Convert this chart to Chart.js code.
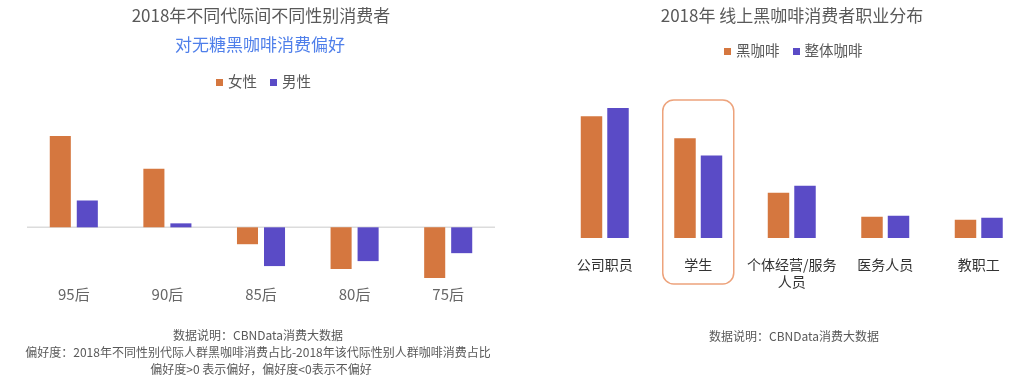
<!DOCTYPE html>
<html><head><meta charset="utf-8">
<script src="https://cdn.jsdelivr.net/npm/chart.js@4"></script>
<style>
html,body{margin:0;padding:0;background:#fff;width:1024px;height:384px;overflow:hidden;position:relative;font-family:"Noto Sans CJK SC","Microsoft YaHei",sans-serif;}
canvas{position:absolute;top:0;}
.t{position:absolute;white-space:nowrap;transform:translateX(-50%);line-height:20px;}
.leg{position:absolute;white-space:nowrap;line-height:18px;font-size:14.5px;color:#595959;}
.sq{display:inline-block;width:7px;height:7px;margin-right:5px;vertical-align:1px;}
.f{position:absolute;white-space:nowrap;transform:translateX(-50%);font-size:12px;line-height:17px;color:#595959;}
</style></head>
<body>
<canvas id="c1" width="512" height="384" style="left:0"></canvas>
<canvas id="c2" width="520" height="384" style="left:512px"></canvas>

<div class="t" style="left:261px;top:5px;font-size:17px;color:#595959">2018年不同代际间不同性别消费者</div>
<div class="t" style="left:260px;top:34px;font-size:17px;color:#4F7FEA">对无糖黑咖啡消费偏好</div>
<div class="leg" style="left:216px;top:72px"><span class="sq" id="lg1a"></span>女性<span style="display:inline-block;width:13px"></span><span class="sq" id="lg1b"></span>男性</div>

<div class="t" style="left:792px;top:5px;font-size:17px;color:#595959">2018年 线上黑咖啡消费者职业分布</div>
<div class="leg" style="left:724px;top:41px"><span class="sq" id="lg2a"></span>黑咖啡<span style="display:inline-block;width:13px"></span><span class="sq" id="lg2b"></span>整体咖啡</div>

<div class="f" style="left:258px;top:326px">数据说明：CBNData消费大数据</div>
<div class="f" style="left:258px;top:343px">偏好度：2018年不同性别代际人群黑咖啡消费占比-2018年该代际性别人群咖啡消费占比</div>
<div class="f" style="left:261px;top:360px">偏好度&gt;0 表示偏好，偏好度&lt;0表示不偏好</div>
<div class="f" style="left:794px;top:327px">数据说明：CBNData消费大数据</div>

<script>
// ---- data ----
const generations = ['95后', '90后', '85后', '80后', '75后'];
const femalePref = [9.2, 5.9, -1.7, -4.2, -5.1];
const malePref = [2.7, 0.4, -3.9, -3.4, -2.6];

const occupations = ['公司职员', '学生', ['个体经营/服务', '人员'], '医务人员', '教职工'];
const blackCoffee = [12.1, 9.9, 4.5, 2.1, 1.8];
const allCoffee = [12.9, 8.2, 5.2, 2.2, 2.0];

const ORANGE = '#D5773F';
const PURPLE = '#5A4BC6';
const FONT = '"Noto Sans CJK SC", "Microsoft YaHei", sans-serif';

document.getElementById('lg1a').style.background = ORANGE;
document.getElementById('lg1b').style.background = PURPLE;
document.getElementById('lg2a').style.background = ORANGE;
document.getElementById('lg2b').style.background = PURPLE;

Chart.defaults.font.family = FONT;
Chart.defaults.animation = false;

const zeroLine = {
  id: 'zeroLine',
  beforeDatasetsDraw(chart) {
    const y = chart.scales.y.getPixelForValue(0);
    const a = chart.chartArea;
    const ctx = chart.ctx;
    ctx.save();
    ctx.strokeStyle = '#dcdcdc';
    ctx.lineWidth = 1.5;
    ctx.beginPath();
    ctx.moveTo(a.left, y);
    ctx.lineTo(a.right, y);
    ctx.stroke();
    ctx.restore();
  }
};

new Chart(document.getElementById('c1'), {
  type: 'bar',
  data: {
    labels: generations,
    datasets: [
      { label: '女性', data: femalePref, backgroundColor: ORANGE },
      { label: '男性', data: malePref, backgroundColor: PURPLE }
    ]
  },
  options: {
    responsive: false,
    devicePixelRatio: 1,
    layout: { padding: { top: 120, left: 27, right: 17, bottom: 75 } },
    categoryPercentage: 0.577,
    barPercentage: 0.78,
    plugins: { legend: { display: false }, tooltip: { enabled: false } },
    scales: {
      x: {
        grid: { display: false, drawTicks: false },
        border: { display: false },
        ticks: { font: { size: 15 }, color: '#666666', padding: 6, maxRotation: 0, minRotation: 0, autoSkip: false }
      },
      y: { display: false, min: -5.2, max: 10.8 }
    }
  },
  plugins: [zeroLine]
});

const highlight = {
  id: 'highlight',
  afterDatasetsDraw(chart) {
    const xs = chart.scales.x, a = chart.chartArea;
    const cx = xs.getPixelForValue(1);
    const half = 35.5;
    const top = 100, bottom = a.bottom + 46;
    const ctx = chart.ctx;
    ctx.save();
    ctx.strokeStyle = '#EDA37C';
    ctx.lineWidth = 1.5;
    ctx.beginPath();
    ctx.roundRect(cx - half, top, half * 2, bottom - top, 11);
    ctx.stroke();
    ctx.restore();
  }
};

new Chart(document.getElementById('c2'), {
  type: 'bar',
  data: {
    labels: occupations,
    datasets: [
      { label: '黑咖啡', data: blackCoffee, backgroundColor: ORANGE },
      { label: '整体咖啡', data: allCoffee, backgroundColor: PURPLE }
    ]
  },
  options: {
    responsive: false,
    devicePixelRatio: 1,
    layout: { padding: { top: 97, left: 46, right: 6.5, bottom: 76.4 } },
    categoryPercentage: 0.567,
    barPercentage: 0.81,
    plugins: { legend: { display: false }, tooltip: { enabled: false } },
    scales: {
      x: {
        grid: { display: false, drawTicks: false },
        border: { display: false },
        ticks: { font: { size: 14 }, color: '#333333', padding: 18, maxRotation: 0, minRotation: 0, autoSkip: false }
      },
      y: { display: false, min: 0, max: 14 }
    }
  },
  plugins: [highlight]
});
</script>
</body></html>
